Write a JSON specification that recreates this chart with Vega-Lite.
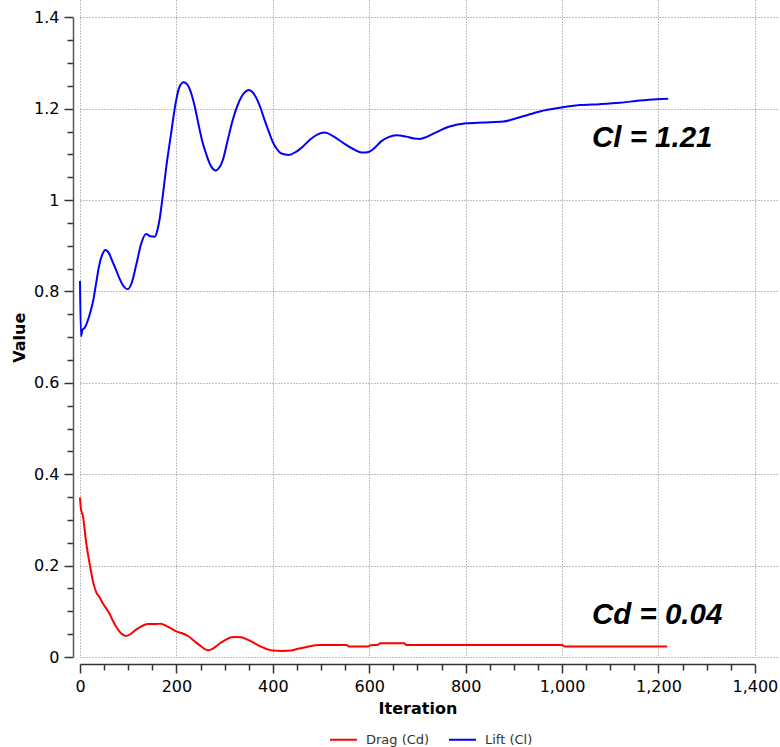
{
  "$schema": "https://vega.github.io/schema/vega-lite/v6.json",
  "width": 699,
  "height": 657,
  "autosize": {"type": "none"},
  "padding": {"left": 80, "top": 0, "right": 1, "bottom": 90},
  "background": "white",
  "config": {
    "view": {"stroke": null},
    "font": "'DejaVu Sans', sans-serif"
  },
  "datasets": {
    "curves": [
      {"iter": 0, "value": 0.349, "series": "Drag (Cd)"},
      {"iter": 2, "value": 0.324, "series": "Drag (Cd)"},
      {"iter": 6, "value": 0.309, "series": "Drag (Cd)"},
      {"iter": 13, "value": 0.249, "series": "Drag (Cd)"},
      {"iter": 21, "value": 0.198, "series": "Drag (Cd)"},
      {"iter": 27, "value": 0.165, "series": "Drag (Cd)"},
      {"iter": 34, "value": 0.141, "series": "Drag (Cd)"},
      {"iter": 40, "value": 0.132, "series": "Drag (Cd)"},
      {"iter": 47, "value": 0.118, "series": "Drag (Cd)"},
      {"iter": 54, "value": 0.107, "series": "Drag (Cd)"},
      {"iter": 61, "value": 0.095, "series": "Drag (Cd)"},
      {"iter": 68, "value": 0.080, "series": "Drag (Cd)"},
      {"iter": 75, "value": 0.066, "series": "Drag (Cd)"},
      {"iter": 85, "value": 0.052, "series": "Drag (Cd)"},
      {"iter": 96, "value": 0.046, "series": "Drag (Cd)"},
      {"iter": 106, "value": 0.051, "series": "Drag (Cd)"},
      {"iter": 115, "value": 0.059, "series": "Drag (Cd)"},
      {"iter": 124, "value": 0.065, "series": "Drag (Cd)"},
      {"iter": 133, "value": 0.070, "series": "Drag (Cd)"},
      {"iter": 141, "value": 0.072, "series": "Drag (Cd)"},
      {"iter": 155, "value": 0.072, "series": "Drag (Cd)"},
      {"iter": 168, "value": 0.073, "series": "Drag (Cd)"},
      {"iter": 179, "value": 0.068, "series": "Drag (Cd)"},
      {"iter": 190, "value": 0.062, "series": "Drag (Cd)"},
      {"iter": 200, "value": 0.056, "series": "Drag (Cd)"},
      {"iter": 212, "value": 0.052, "series": "Drag (Cd)"},
      {"iter": 224, "value": 0.046, "series": "Drag (Cd)"},
      {"iter": 236, "value": 0.036, "series": "Drag (Cd)"},
      {"iter": 248, "value": 0.026, "series": "Drag (Cd)"},
      {"iter": 258, "value": 0.018, "series": "Drag (Cd)"},
      {"iter": 266, "value": 0.015, "series": "Drag (Cd)"},
      {"iter": 275, "value": 0.018, "series": "Drag (Cd)"},
      {"iter": 283, "value": 0.024, "series": "Drag (Cd)"},
      {"iter": 293, "value": 0.032, "series": "Drag (Cd)"},
      {"iter": 303, "value": 0.038, "series": "Drag (Cd)"},
      {"iter": 314, "value": 0.043, "series": "Drag (Cd)"},
      {"iter": 324, "value": 0.044, "series": "Drag (Cd)"},
      {"iter": 335, "value": 0.043, "series": "Drag (Cd)"},
      {"iter": 345, "value": 0.039, "series": "Drag (Cd)"},
      {"iter": 359, "value": 0.032, "series": "Drag (Cd)"},
      {"iter": 373, "value": 0.024, "series": "Drag (Cd)"},
      {"iter": 386, "value": 0.018, "series": "Drag (Cd)"},
      {"iter": 399, "value": 0.014, "series": "Drag (Cd)"},
      {"iter": 420, "value": 0.013, "series": "Drag (Cd)"},
      {"iter": 438, "value": 0.014, "series": "Drag (Cd)"},
      {"iter": 452, "value": 0.018, "series": "Drag (Cd)"},
      {"iter": 470, "value": 0.022, "series": "Drag (Cd)"},
      {"iter": 497, "value": 0.026, "series": "Drag (Cd)"},
      {"iter": 553, "value": 0.026, "series": "Drag (Cd)"},
      {"iter": 558, "value": 0.023, "series": "Drag (Cd)"},
      {"iter": 598, "value": 0.023, "series": "Drag (Cd)"},
      {"iter": 603, "value": 0.026, "series": "Drag (Cd)"},
      {"iter": 618, "value": 0.027, "series": "Drag (Cd)"},
      {"iter": 623, "value": 0.030, "series": "Drag (Cd)"},
      {"iter": 672, "value": 0.030, "series": "Drag (Cd)"},
      {"iter": 678, "value": 0.026, "series": "Drag (Cd)"},
      {"iter": 1000, "value": 0.026, "series": "Drag (Cd)"},
      {"iter": 1005, "value": 0.023, "series": "Drag (Cd)"},
      {"iter": 1218, "value": 0.023, "series": "Drag (Cd)"},
      {"iter": 0, "value": 0.823, "series": "Lift (Cl)"},
      {"iter": 2, "value": 0.702, "series": "Lift (Cl)"},
      {"iter": 5, "value": 0.716, "series": "Lift (Cl)"},
      {"iter": 10, "value": 0.721, "series": "Lift (Cl)"},
      {"iter": 16, "value": 0.736, "series": "Lift (Cl)"},
      {"iter": 21, "value": 0.753, "series": "Lift (Cl)"},
      {"iter": 27, "value": 0.778, "series": "Lift (Cl)"},
      {"iter": 33, "value": 0.815, "series": "Lift (Cl)"},
      {"iter": 40, "value": 0.858, "series": "Lift (Cl)"},
      {"iter": 47, "value": 0.883, "series": "Lift (Cl)"},
      {"iter": 53, "value": 0.891, "series": "Lift (Cl)"},
      {"iter": 60, "value": 0.884, "series": "Lift (Cl)"},
      {"iter": 68, "value": 0.864, "series": "Lift (Cl)"},
      {"iter": 75, "value": 0.847, "series": "Lift (Cl)"},
      {"iter": 83, "value": 0.826, "series": "Lift (Cl)"},
      {"iter": 90, "value": 0.812, "series": "Lift (Cl)"},
      {"iter": 99, "value": 0.805, "series": "Lift (Cl)"},
      {"iter": 107, "value": 0.818, "series": "Lift (Cl)"},
      {"iter": 117, "value": 0.860, "series": "Lift (Cl)"},
      {"iter": 127, "value": 0.905, "series": "Lift (Cl)"},
      {"iter": 137, "value": 0.926, "series": "Lift (Cl)"},
      {"iter": 146, "value": 0.921, "series": "Lift (Cl)"},
      {"iter": 155, "value": 0.920, "series": "Lift (Cl)"},
      {"iter": 160, "value": 0.932, "series": "Lift (Cl)"},
      {"iter": 165, "value": 0.957, "series": "Lift (Cl)"},
      {"iter": 172, "value": 1.012, "series": "Lift (Cl)"},
      {"iter": 179, "value": 1.073, "series": "Lift (Cl)"},
      {"iter": 189, "value": 1.146, "series": "Lift (Cl)"},
      {"iter": 196, "value": 1.197, "series": "Lift (Cl)"},
      {"iter": 200, "value": 1.221, "series": "Lift (Cl)"},
      {"iter": 206, "value": 1.247, "series": "Lift (Cl)"},
      {"iter": 215, "value": 1.258, "series": "Lift (Cl)"},
      {"iter": 222, "value": 1.254, "series": "Lift (Cl)"},
      {"iter": 230, "value": 1.236, "series": "Lift (Cl)"},
      {"iter": 238, "value": 1.205, "series": "Lift (Cl)"},
      {"iter": 246, "value": 1.165, "series": "Lift (Cl)"},
      {"iter": 254, "value": 1.127, "series": "Lift (Cl)"},
      {"iter": 262, "value": 1.100, "series": "Lift (Cl)"},
      {"iter": 270, "value": 1.078, "series": "Lift (Cl)"},
      {"iter": 281, "value": 1.065, "series": "Lift (Cl)"},
      {"iter": 290, "value": 1.073, "series": "Lift (Cl)"},
      {"iter": 297, "value": 1.090, "series": "Lift (Cl)"},
      {"iter": 305, "value": 1.125, "series": "Lift (Cl)"},
      {"iter": 317, "value": 1.176, "series": "Lift (Cl)"},
      {"iter": 326, "value": 1.205, "series": "Lift (Cl)"},
      {"iter": 335, "value": 1.226, "series": "Lift (Cl)"},
      {"iter": 343, "value": 1.237, "series": "Lift (Cl)"},
      {"iter": 350, "value": 1.241, "series": "Lift (Cl)"},
      {"iter": 357, "value": 1.237, "series": "Lift (Cl)"},
      {"iter": 365, "value": 1.225, "series": "Lift (Cl)"},
      {"iter": 373, "value": 1.206, "series": "Lift (Cl)"},
      {"iter": 383, "value": 1.175, "series": "Lift (Cl)"},
      {"iter": 393, "value": 1.146, "series": "Lift (Cl)"},
      {"iter": 400, "value": 1.127, "series": "Lift (Cl)"},
      {"iter": 407, "value": 1.114, "series": "Lift (Cl)"},
      {"iter": 418, "value": 1.102, "series": "Lift (Cl)"},
      {"iter": 433, "value": 1.099, "series": "Lift (Cl)"},
      {"iter": 447, "value": 1.105, "series": "Lift (Cl)"},
      {"iter": 462, "value": 1.117, "series": "Lift (Cl)"},
      {"iter": 478, "value": 1.133, "series": "Lift (Cl)"},
      {"iter": 493, "value": 1.144, "series": "Lift (Cl)"},
      {"iter": 508, "value": 1.148, "series": "Lift (Cl)"},
      {"iter": 525, "value": 1.140, "series": "Lift (Cl)"},
      {"iter": 545, "value": 1.126, "series": "Lift (Cl)"},
      {"iter": 565, "value": 1.113, "series": "Lift (Cl)"},
      {"iter": 587, "value": 1.104, "series": "Lift (Cl)"},
      {"iter": 600, "value": 1.106, "series": "Lift (Cl)"},
      {"iter": 612, "value": 1.115, "series": "Lift (Cl)"},
      {"iter": 624, "value": 1.128, "series": "Lift (Cl)"},
      {"iter": 640, "value": 1.138, "series": "Lift (Cl)"},
      {"iter": 656, "value": 1.142, "series": "Lift (Cl)"},
      {"iter": 677, "value": 1.139, "series": "Lift (Cl)"},
      {"iter": 693, "value": 1.135, "series": "Lift (Cl)"},
      {"iter": 705, "value": 1.134, "series": "Lift (Cl)"},
      {"iter": 718, "value": 1.138, "series": "Lift (Cl)"},
      {"iter": 732, "value": 1.145, "series": "Lift (Cl)"},
      {"iter": 767, "value": 1.161, "series": "Lift (Cl)"},
      {"iter": 801, "value": 1.168, "series": "Lift (Cl)"},
      {"iter": 836, "value": 1.170, "series": "Lift (Cl)"},
      {"iter": 878, "value": 1.172, "series": "Lift (Cl)"},
      {"iter": 905, "value": 1.179, "series": "Lift (Cl)"},
      {"iter": 930, "value": 1.187, "series": "Lift (Cl)"},
      {"iter": 954, "value": 1.194, "series": "Lift (Cl)"},
      {"iter": 995, "value": 1.202, "series": "Lift (Cl)"},
      {"iter": 1037, "value": 1.208, "series": "Lift (Cl)"},
      {"iter": 1078, "value": 1.210, "series": "Lift (Cl)"},
      {"iter": 1120, "value": 1.213, "series": "Lift (Cl)"},
      {"iter": 1161, "value": 1.218, "series": "Lift (Cl)"},
      {"iter": 1196, "value": 1.221, "series": "Lift (Cl)"},
      {"iter": 1220, "value": 1.222, "series": "Lift (Cl)"}
    ],
    "notes": [
      {"iter": 1062, "value": 1.117, "label": "Cl = 1.21"},
      {"iter": 1062, "value": 0.0716, "label": "Cd = 0.04"}
    ]
  },
  "layer": [
    {
      "data": {"name": "curves"},
      "mark": {"type": "line", "strokeWidth": 2, "interpolate": "monotone"},
      "encoding": {
        "x": {
          "field": "iter", "type": "quantitative",
          "scale": {"domain": [0, 1450], "nice": false, "zero": false},
          "axis": {"orient": "bottom", "values": [0, 200, 400, 600, 800, 1000, 1200, 1400], "grid": true, "gridColor": "#808080", "gridDash": [1, 2], "gridWidth": 1, "domain": false, "ticks": false, "labels": false, "title": null}
        },
        "y": {
          "field": "value", "type": "quantitative",
          "scale": {"domain": [0, 1.438], "nice": false, "zero": false},
          "axis": {"orient": "left", "values": [0, 0.2, 0.4, 0.6, 0.8, 1, 1.2, 1.4], "grid": true, "gridColor": "#808080", "gridDash": [1, 2], "gridWidth": 1, "domain": false, "ticks": false, "labels": false, "title": null}
        },
        "color": {
          "field": "series", "type": "nominal",
          "scale": {"domain": ["Drag (Cd)", "Lift (Cl)"], "range": ["#ff0000", "#0000ff"]},
          "legend": {
            "orient": "none", "legendX": 249, "legendY": 725, "direction": "horizontal",
            "title": null, "symbolType": "stroke", "symbolSize": 729, "symbolStrokeWidth": 2,
            "labelFontSize": 13, "labelColor": "#333333", "labelOffset": 8, "columnPadding": 15, "padding": 0
          }
        }
      }
    },
    {
      "data": {"name": "notes"},
      "mark": {"type": "text", "align": "left", "baseline": "alphabetic", "fontSize": 29.5, "fontWeight": "bold", "fontStyle": "italic", "font": "Liberation Sans", "color": "#000000"},
      "encoding": {
        "x": {"field": "iter", "type": "quantitative", "scale": {"domain": [0, 1450], "nice": false, "zero": false}, "axis": null},
        "y": {"field": "value", "type": "quantitative", "scale": {"domain": [0, 1.438], "nice": false, "zero": false}, "axis": null},
        "text": {"field": "label"}
      }
    },
    {
      "data": {"name": "curves"},
      "mark": {"type": "point", "opacity": 0},
      "encoding": {
        "x": {
          "field": "iter", "type": "quantitative",
          "scale": {"domain": [0, 1400], "nice": false, "zero": false, "range": [0, 674.9]},
          "axis": {
            "orient": "bottom", "offset": 7, "grid": false,
            "values": [0, 50, 100, 150, 200, 250, 300, 350, 400, 450, 500, 550, 600, 650, 700, 750, 800, 850, 900, 950, 1000, 1050, 1100, 1150, 1200, 1250, 1300, 1350, 1400],
            "labelExpr": "datum.value % 200 == 0 ? format(datum.value, ',') : ''",
            "labelOverlap": false, "labelBound": false, "labelFlush": false,
            "labelFontSize": 16, "labelColor": "#000000", "labelPadding": 5,
            "domainColor": "#333333", "domainWidth": 1.5,
            "tickColor": "#333333", "tickWidth": 1.5,
            "tickSize": {"condition": {"test": "datum.value % 200 == 0", "value": 9}, "value": 6},
            "title": "Iteration", "titleFontSize": 16, "titleFontWeight": "bold", "titleColor": "#000000", "titlePadding": 6
          }
        },
        "y": {
          "field": "value", "type": "quantitative",
          "scale": {"domain": [0, 1.4], "nice": false, "zero": false, "range": [657, 17.36]},
          "axis": {
            "orient": "left", "offset": 7, "grid": false,
            "values": [0, 0.05, 0.1, 0.15, 0.2, 0.25, 0.3, 0.35, 0.4, 0.45, 0.5, 0.55, 0.6, 0.65, 0.7, 0.75, 0.8, 0.85, 0.9, 0.95, 1, 1.05, 1.1, 1.15, 1.2, 1.25, 1.3, 1.35, 1.4],
            "labelExpr": "abs(datum.value * 5 - round(datum.value * 5)) < 0.001 ? format(datum.value, '~g') : ''",
            "labelOverlap": false, "labelBound": false, "labelFlush": false,
            "labelFontSize": 16, "labelColor": "#000000", "labelPadding": 5,
            "domainColor": "#555555", "domainWidth": 1.5,
            "tickColor": "#333333", "tickWidth": 1.5,
            "tickSize": {"condition": {"test": "abs(datum.value * 5 - round(datum.value * 5)) < 0.001", "value": 9}, "value": 6},
            "title": "Value", "titleFontSize": 16, "titleFontWeight": "bold", "titleColor": "#000000", "titlePadding": 6
          }
        }
      }
    }
  ],
  "resolve": {
    "scale": {"x": "independent", "y": "independent", "color": "independent"},
    "axis": {"x": "independent", "y": "independent"}
  }
}
